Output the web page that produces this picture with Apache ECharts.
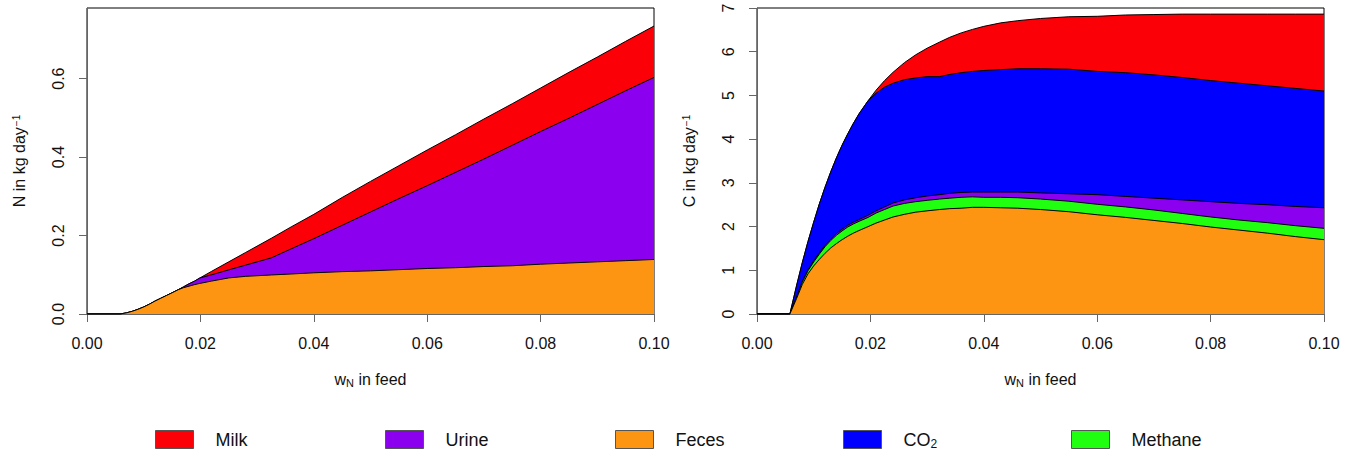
<!DOCTYPE html>
<html><head><meta charset="utf-8">
<script src="https://cdn.jsdelivr.net/npm/echarts@6/dist/echarts.min.js"></script>
<style>html,body{margin:0;padding:0;background:#fff}#c{width:1355px;height:453px}</style>
</head><body><div id="c"></div>
<script>
// ---- Left panel: N flows (kg/day) vs N mass fraction in feed ----
const xN = [0, 0.0058, 0.007, 0.008, 0.009, 0.010, 0.011, 0.012, 0.013, 0.014, 0.015, 0.0161, 0.017, 0.018, 0.019, 0.0199, 0.022, 0.025, 0.028, 0.0325, 0.036, 0.040, 0.045, 0.050, 0.055, 0.060, 0.065, 0.070, 0.075, 0.080, 0.085, 0.090, 0.095, 0.100];
const nFeces = [0, 0, .003, .007, .012, .018, .025, .033, .040, .047, .054, .062, .067, .071, .075, .078, .084, .092, .096, .0995, .102, .105, .108, .110, .113, .116, .118, .121, .123, .127, .130, .133, .136, .139];
const nUrine = [0, 0, 0, 0, 0, 0, 0, 0, 0, 0, 0, 0, .002, .006, .009, .0138, .016, .0205, .0287, .0435, .064, .087, .118, .150, .181, .211, .243, .274, .307, .338, .369, .401, .433, .464];
const nMilk = [0, 0, 0, 0, 0, 0, 0, 0, 0, 0, 0, 0, 0, 0, 0, 0, .009, .0205, .0323, .050, .056, .062, .071, .078, .084, .091, .096, .102, .106, .111, .117, .121, .126, .131];

// ---- Right panel: C flows (kg/day) ----
const xC = [0, 0.0058, 0.007, 0.008, 0.009, 0.010, 0.011, 0.012, 0.013, 0.014, 0.015, 0.016, 0.017, 0.018, 0.0196, 0.021, 0.0225, 0.024, 0.026, 0.028, 0.030, 0.0322, 0.034, 0.036, 0.038, 0.040, 0.043, 0.046, 0.050, 0.055, 0.060, 0.065, 0.070, 0.075, 0.080, 0.085, 0.090, 0.095, 0.100];
const cFeces = [0, 0, .36, .68, .92, 1.10, 1.25, 1.39, 1.51, 1.61, 1.70, 1.78, 1.85, 1.91, 2.00, 2.08, 2.15, 2.22, 2.28, 2.33, 2.36, 2.39, 2.41, 2.42, 2.44, 2.44, 2.43, 2.42, 2.39, 2.34, 2.27, 2.21, 2.14, 2.07, 1.99, 1.92, 1.85, 1.77, 1.70];
const cMethane = [0, 0, .03, .05, .07, .09, .12, .15, .17, .19, .20, .21, .21, .21, .21, .23, .24, .25, .25, .24, .24, .24, .24, .25, .24, .23, .24, .24, .24, .24, .24, .24, .24, .23, .23, .23, .24, .25, .26];
const cUrine = [0, 0, .01, .02, .02, .03, .03, .03, .03, .04, .04, .04, .04, .04, .05, .05, .06, .07, .08, .09, .10, .10, .11, .11, .11, .12, .12, .13, .14, .17, .22, .24, .27, .31, .35, .38, .41, .44, .47];
const cCO2 = [0, 0, .26, .43, .65, .88, 1.12, 1.33, 1.54, 1.73, 1.92, 2.09, 2.26, 2.42, 2.62, 2.69, 2.74, 2.74, 2.75, 2.74, 2.73, 2.70, 2.72, 2.74, 2.76, 2.78, 2.80, 2.82, 2.84, 2.85, 2.82, 2.83, 2.82, 2.80, 2.77, 2.75, 2.72, 2.70, 2.67];
const cMilk = [0, 0, 0, 0, 0, 0, 0, 0, 0, 0, 0, 0, 0, 0, 0, .07, .15, .25, .39, .53, .65, .79, .85, .91, .96, 1.01, 1.07, 1.10, 1.15, 1.20, 1.26, 1.32, 1.38, 1.45, 1.52, 1.58, 1.64, 1.70, 1.76];

// ---- tick labels ----
const xTicks = [0, 0.02, 0.04, 0.06, 0.08, 0.10];
const nTicks = [0, 0.2, 0.4, 0.6];
const cTicks = [0, 1, 2, 3, 4, 5, 6, 7];
const legendNames = ['Milk', 'Urine', 'Feces', 'CO2', 'Methane'];
const colors = {Milk: '#fc0008', Urine: '#8b00ee', Feces: '#fd9412', CO2: '#0000ff', Methane: '#1fff0f'};

const FONT = '"Liberation Sans", Arial, Helvetica, sans-serif';

function cumulative(layers) {
  const out = [];
  let run = layers[0].map(() => 0);
  layers.forEach(l => { run = run.map((v, i) => v + l[i]); out.push(run.slice()); });
  return out;
}

function areaSeries(name, xs, tops, grid, z) {
  return {
    type: 'line', name: name, xAxisIndex: grid, yAxisIndex: grid,
    data: xs.map((x, i) => [x, tops[i]]),
    showSymbol: false, symbol: 'none', smooth: false, silent: true,
    lineStyle: {color: '#000', width: 1},
    itemStyle: {color: colors[name]},
    areaStyle: {color: colors[name], opacity: 1, origin: 'start'},
    z: z, animation: false
  };
}

const nCum = cumulative([nFeces, nUrine, nMilk]);
const cCum = cumulative([cFeces, cMethane, cUrine, cCO2, cMilk]);

const series = [
  areaSeries('Milk', xN, nCum[2], 0, 2),
  areaSeries('Urine', xN, nCum[1], 0, 3),
  areaSeries('Feces', xN, nCum[0], 0, 4),
  areaSeries('Milk', xC, cCum[4], 1, 2),
  areaSeries('CO2', xC, cCum[3], 1, 3),
  areaSeries('Urine', xC, cCum[2], 1, 4),
  areaSeries('Methane', xC, cCum[1], 1, 5),
  areaSeries('Feces', xC, cCum[0], 1, 6)
];

const txt = {fontSize: 16, color: '#111', fontFamily: FONT};

function xAxis(g) {
  return {
    type: 'value', gridIndex: g, min: 0, max: 0.1,
    axisLine: {show: true, onZero: false, lineStyle: {color: '#666', width: 1}},
    axisTick: {show: true, length: 8, customValues: xTicks, lineStyle: {color: '#666'}},
    axisLabel: Object.assign({customValues: xTicks, margin: 21, formatter: v => v.toFixed(2)}, txt),
    splitLine: {show: false},
    name: 'w{s|N} in feed', nameLocation: 'middle', nameGap: 57,
    nameTextStyle: Object.assign({rich: {s: {fontSize: 11, fontFamily: FONT, color: '#111', verticalAlign: 'bottom', padding: [6, 0, 0, 0]}}}, txt)
  };
}
function yAxis(g, max, ticks, digits, label) {
  return {
    type: 'value', gridIndex: g, min: 0, max: max,
    axisLine: {show: true, onZero: false, lineStyle: {color: '#666', width: 1}},
    axisTick: {show: true, length: 8, customValues: ticks, lineStyle: {color: '#666'}},
    axisLabel: Object.assign({customValues: ticks, rotate: 90, margin: 21, formatter: v => v.toFixed(digits)}, txt),
    splitLine: {show: false},
    name: label + ' in kg day{sup|\u22121}', nameLocation: 'middle', nameGap: 60, nameRotate: 90,
    nameTextStyle: Object.assign({rich: {sup: {fontSize: 10, fontFamily: FONT, color: '#111', verticalAlign: 'top', padding: [0, 0, 6, 1]}}}, txt)
  };
}

const legendLeft = [155, 385, 615, 843, 1071];
const legends = legendNames.map((n, i) => ({
  data: [{name: n, itemStyle: {color: colors[n]}}],
  left: legendLeft[i], top: 430, padding: 0,
  icon: 'rect', itemWidth: 38, itemHeight: 18,
  itemStyle: {borderColor: '#555', borderWidth: 1},
  selectedMode: false,
  formatter: name => name === 'CO2' ? '{g| }CO{s|2}' : '{g| }' + name,
  textStyle: {fontSize: 18, color: '#111', fontFamily: FONT,
    rich: {g: {width: 17, fontSize: 18}, s: {fontSize: 12, fontFamily: FONT, color: '#111', verticalAlign: 'bottom', padding: [8, 0, 0, 0]}}}
}));

const chart = echarts.init(document.getElementById('c'), null, {renderer: 'svg'});
chart.setOption({
  animation: false,
  backgroundColor: '#fff',
  grid: [
    {left: 87, top: 8, width: 567, height: 306, show: true, borderColor: '#000', borderWidth: 1, backgroundColor: 'transparent'},
    {left: 757, top: 8, width: 567, height: 306, show: true, borderColor: '#000', borderWidth: 1, backgroundColor: 'transparent'}
  ],
  xAxis: [xAxis(0), xAxis(1)],
  yAxis: [yAxis(0, 0.78, nTicks, 1, 'N'), yAxis(1, 7, cTicks, 0, 'C')],
  legend: legends,
  series: series
});
</script>
</body></html>
